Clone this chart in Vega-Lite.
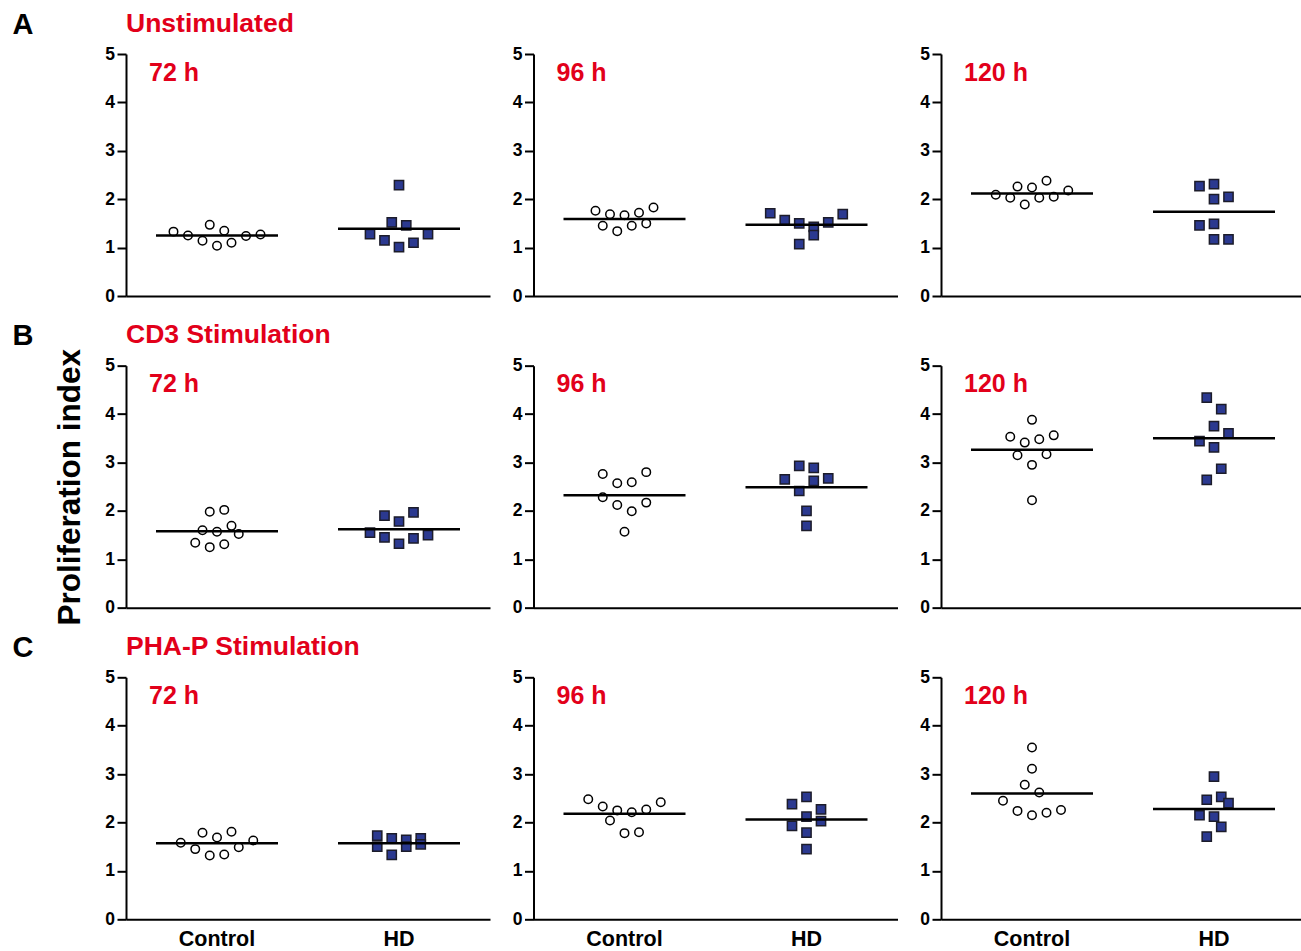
{
  "$schema": "https://vega.github.io/schema/vega-lite/v6.json",
  "background": "white",
  "padding": {"left": 12, "top": 10, "right": 0, "bottom": 0},
  "autosize": {"type": "pad"},
  "config": {
    "font": "Liberation Sans",
    "view": {"stroke": null},
    "axis": {"domainColor": "#000000", "domainWidth": 2, "tickColor": "#000000", "tickWidth": 2, "labelColor": "#000000", "grid": false, "labelFont": "Liberation Sans", "labelFontWeight": "bold", "titleFont": "Liberation Sans", "titleColor": "#000000", "titleFontWeight": "bold"},
    "title": {"font": "Liberation Sans", "fontWeight": "bold", "fontSize": 26.5, "color": "#E2001A", "anchor": "start", "frame": "group", "baseline": "alphabetic", "offset": -27}
  },
  "datasets": {
    "points": [
      {"stim":"Unstimulated","time":"72 h","group":"Control","slot":-6,"index":1.33},
      {"stim":"Unstimulated","time":"72 h","group":"Control","slot":-4,"index":1.25},
      {"stim":"Unstimulated","time":"72 h","group":"Control","slot":-2,"index":1.14},
      {"stim":"Unstimulated","time":"72 h","group":"Control","slot":-1,"index":1.47},
      {"stim":"Unstimulated","time":"72 h","group":"Control","slot":0,"index":1.04},
      {"stim":"Unstimulated","time":"72 h","group":"Control","slot":1,"index":1.35},
      {"stim":"Unstimulated","time":"72 h","group":"Control","slot":2,"index":1.10},
      {"stim":"Unstimulated","time":"72 h","group":"Control","slot":4,"index":1.24},
      {"stim":"Unstimulated","time":"72 h","group":"Control","slot":6,"index":1.27},
      {"stim":"Unstimulated","time":"72 h","group":"HD","slot":0,"index":2.29},
      {"stim":"Unstimulated","time":"72 h","group":"HD","slot":-1,"index":1.52},
      {"stim":"Unstimulated","time":"72 h","group":"HD","slot":1,"index":1.46},
      {"stim":"Unstimulated","time":"72 h","group":"HD","slot":-4,"index":1.28},
      {"stim":"Unstimulated","time":"72 h","group":"HD","slot":-2,"index":1.15},
      {"stim":"Unstimulated","time":"72 h","group":"HD","slot":0,"index":1.01},
      {"stim":"Unstimulated","time":"72 h","group":"HD","slot":2,"index":1.10},
      {"stim":"Unstimulated","time":"72 h","group":"HD","slot":4,"index":1.28},

      {"stim":"Unstimulated","time":"96 h","group":"Control","slot":-4,"index":1.76},
      {"stim":"Unstimulated","time":"96 h","group":"Control","slot":-3,"index":1.45},
      {"stim":"Unstimulated","time":"96 h","group":"Control","slot":-2,"index":1.69},
      {"stim":"Unstimulated","time":"96 h","group":"Control","slot":-1,"index":1.34},
      {"stim":"Unstimulated","time":"96 h","group":"Control","slot":0,"index":1.67},
      {"stim":"Unstimulated","time":"96 h","group":"Control","slot":1,"index":1.45},
      {"stim":"Unstimulated","time":"96 h","group":"Control","slot":2,"index":1.72},
      {"stim":"Unstimulated","time":"96 h","group":"Control","slot":3,"index":1.50},
      {"stim":"Unstimulated","time":"96 h","group":"Control","slot":4,"index":1.83},
      {"stim":"Unstimulated","time":"96 h","group":"HD","slot":-5,"index":1.71},
      {"stim":"Unstimulated","time":"96 h","group":"HD","slot":-3,"index":1.57},
      {"stim":"Unstimulated","time":"96 h","group":"HD","slot":-1,"index":1.50},
      {"stim":"Unstimulated","time":"96 h","group":"HD","slot":1,"index":1.43},
      {"stim":"Unstimulated","time":"96 h","group":"HD","slot":1,"index":1.26},
      {"stim":"Unstimulated","time":"96 h","group":"HD","slot":-1,"index":1.07},
      {"stim":"Unstimulated","time":"96 h","group":"HD","slot":3,"index":1.52},
      {"stim":"Unstimulated","time":"96 h","group":"HD","slot":5,"index":1.69},

      {"stim":"Unstimulated","time":"120 h","group":"Control","slot":-5,"index":2.09},
      {"stim":"Unstimulated","time":"120 h","group":"Control","slot":-3,"index":2.03},
      {"stim":"Unstimulated","time":"120 h","group":"Control","slot":-2,"index":2.26},
      {"stim":"Unstimulated","time":"120 h","group":"Control","slot":-1,"index":1.89},
      {"stim":"Unstimulated","time":"120 h","group":"Control","slot":0,"index":2.24},
      {"stim":"Unstimulated","time":"120 h","group":"Control","slot":1,"index":2.03},
      {"stim":"Unstimulated","time":"120 h","group":"Control","slot":2,"index":2.38},
      {"stim":"Unstimulated","time":"120 h","group":"Control","slot":3,"index":2.05},
      {"stim":"Unstimulated","time":"120 h","group":"Control","slot":5,"index":2.18},
      {"stim":"Unstimulated","time":"120 h","group":"HD","slot":-2,"index":2.27},
      {"stim":"Unstimulated","time":"120 h","group":"HD","slot":0,"index":2.31},
      {"stim":"Unstimulated","time":"120 h","group":"HD","slot":0,"index":2.00},
      {"stim":"Unstimulated","time":"120 h","group":"HD","slot":2,"index":2.05},
      {"stim":"Unstimulated","time":"120 h","group":"HD","slot":-2,"index":1.46},
      {"stim":"Unstimulated","time":"120 h","group":"HD","slot":0,"index":1.49},
      {"stim":"Unstimulated","time":"120 h","group":"HD","slot":0,"index":1.17},
      {"stim":"Unstimulated","time":"120 h","group":"HD","slot":2,"index":1.17},

      {"stim":"CD3","time":"72 h","group":"Control","slot":-3,"index":1.34},
      {"stim":"CD3","time":"72 h","group":"Control","slot":-2,"index":1.60},
      {"stim":"CD3","time":"72 h","group":"Control","slot":-1,"index":1.98},
      {"stim":"CD3","time":"72 h","group":"Control","slot":-1,"index":1.25},
      {"stim":"CD3","time":"72 h","group":"Control","slot":0,"index":1.57},
      {"stim":"CD3","time":"72 h","group":"Control","slot":1,"index":2.02},
      {"stim":"CD3","time":"72 h","group":"Control","slot":1,"index":1.31},
      {"stim":"CD3","time":"72 h","group":"Control","slot":2,"index":1.69},
      {"stim":"CD3","time":"72 h","group":"Control","slot":3,"index":1.52},
      {"stim":"CD3","time":"72 h","group":"HD","slot":-4,"index":1.55},
      {"stim":"CD3","time":"72 h","group":"HD","slot":-2,"index":1.90},
      {"stim":"CD3","time":"72 h","group":"HD","slot":-2,"index":1.45},
      {"stim":"CD3","time":"72 h","group":"HD","slot":0,"index":1.78},
      {"stim":"CD3","time":"72 h","group":"HD","slot":0,"index":1.32},
      {"stim":"CD3","time":"72 h","group":"HD","slot":2,"index":1.97},
      {"stim":"CD3","time":"72 h","group":"HD","slot":2,"index":1.43},
      {"stim":"CD3","time":"72 h","group":"HD","slot":4,"index":1.50},

      {"stim":"CD3","time":"96 h","group":"Control","slot":-3,"index":2.76},
      {"stim":"CD3","time":"96 h","group":"Control","slot":-1,"index":2.57},
      {"stim":"CD3","time":"96 h","group":"Control","slot":1,"index":2.59},
      {"stim":"CD3","time":"96 h","group":"Control","slot":3,"index":2.80},
      {"stim":"CD3","time":"96 h","group":"Control","slot":-3,"index":2.28},
      {"stim":"CD3","time":"96 h","group":"Control","slot":-1,"index":2.12},
      {"stim":"CD3","time":"96 h","group":"Control","slot":1,"index":1.99},
      {"stim":"CD3","time":"96 h","group":"Control","slot":3,"index":2.17},
      {"stim":"CD3","time":"96 h","group":"Control","slot":0,"index":1.57},
      {"stim":"CD3","time":"96 h","group":"HD","slot":-3,"index":2.65},
      {"stim":"CD3","time":"96 h","group":"HD","slot":-1,"index":2.93},
      {"stim":"CD3","time":"96 h","group":"HD","slot":1,"index":2.89},
      {"stim":"CD3","time":"96 h","group":"HD","slot":1,"index":2.62},
      {"stim":"CD3","time":"96 h","group":"HD","slot":3,"index":2.67},
      {"stim":"CD3","time":"96 h","group":"HD","slot":-1,"index":2.41},
      {"stim":"CD3","time":"96 h","group":"HD","slot":0,"index":2.00},
      {"stim":"CD3","time":"96 h","group":"HD","slot":0,"index":1.69},

      {"stim":"CD3","time":"120 h","group":"Control","slot":-3,"index":3.53},
      {"stim":"CD3","time":"120 h","group":"Control","slot":-1,"index":3.41},
      {"stim":"CD3","time":"120 h","group":"Control","slot":0,"index":3.88},
      {"stim":"CD3","time":"120 h","group":"Control","slot":1,"index":3.48},
      {"stim":"CD3","time":"120 h","group":"Control","slot":3,"index":3.56},
      {"stim":"CD3","time":"120 h","group":"Control","slot":-2,"index":3.15},
      {"stim":"CD3","time":"120 h","group":"Control","slot":2,"index":3.17},
      {"stim":"CD3","time":"120 h","group":"Control","slot":0,"index":2.95},
      {"stim":"CD3","time":"120 h","group":"Control","slot":0,"index":2.22},
      {"stim":"CD3","time":"120 h","group":"HD","slot":-1,"index":4.34},
      {"stim":"CD3","time":"120 h","group":"HD","slot":1,"index":4.10},
      {"stim":"CD3","time":"120 h","group":"HD","slot":0,"index":3.75},
      {"stim":"CD3","time":"120 h","group":"HD","slot":2,"index":3.60},
      {"stim":"CD3","time":"120 h","group":"HD","slot":-2,"index":3.44},
      {"stim":"CD3","time":"120 h","group":"HD","slot":0,"index":3.31},
      {"stim":"CD3","time":"120 h","group":"HD","slot":1,"index":2.87},
      {"stim":"CD3","time":"120 h","group":"HD","slot":-1,"index":2.64},

      {"stim":"PHA-P","time":"72 h","group":"Control","slot":-5,"index":1.58},
      {"stim":"PHA-P","time":"72 h","group":"Control","slot":-3,"index":1.45},
      {"stim":"PHA-P","time":"72 h","group":"Control","slot":-2,"index":1.79},
      {"stim":"PHA-P","time":"72 h","group":"Control","slot":-1,"index":1.32},
      {"stim":"PHA-P","time":"72 h","group":"Control","slot":0,"index":1.69},
      {"stim":"PHA-P","time":"72 h","group":"Control","slot":1,"index":1.34},
      {"stim":"PHA-P","time":"72 h","group":"Control","slot":2,"index":1.81},
      {"stim":"PHA-P","time":"72 h","group":"Control","slot":3,"index":1.49},
      {"stim":"PHA-P","time":"72 h","group":"Control","slot":5,"index":1.63},
      {"stim":"PHA-P","time":"72 h","group":"HD","slot":-3,"index":1.73},
      {"stim":"PHA-P","time":"72 h","group":"HD","slot":-3,"index":1.50},
      {"stim":"PHA-P","time":"72 h","group":"HD","slot":-1,"index":1.67},
      {"stim":"PHA-P","time":"72 h","group":"HD","slot":-1,"index":1.33},
      {"stim":"PHA-P","time":"72 h","group":"HD","slot":1,"index":1.64},
      {"stim":"PHA-P","time":"72 h","group":"HD","slot":1,"index":1.50},
      {"stim":"PHA-P","time":"72 h","group":"HD","slot":3,"index":1.67},
      {"stim":"PHA-P","time":"72 h","group":"HD","slot":3,"index":1.55},

      {"stim":"PHA-P","time":"96 h","group":"Control","slot":-5,"index":2.48},
      {"stim":"PHA-P","time":"96 h","group":"Control","slot":-3,"index":2.33},
      {"stim":"PHA-P","time":"96 h","group":"Control","slot":-2,"index":2.04},
      {"stim":"PHA-P","time":"96 h","group":"Control","slot":-1,"index":2.25},
      {"stim":"PHA-P","time":"96 h","group":"Control","slot":0,"index":1.78},
      {"stim":"PHA-P","time":"96 h","group":"Control","slot":1,"index":2.21},
      {"stim":"PHA-P","time":"96 h","group":"Control","slot":2,"index":1.80},
      {"stim":"PHA-P","time":"96 h","group":"Control","slot":3,"index":2.27},
      {"stim":"PHA-P","time":"96 h","group":"Control","slot":5,"index":2.42},
      {"stim":"PHA-P","time":"96 h","group":"HD","slot":-2,"index":2.38},
      {"stim":"PHA-P","time":"96 h","group":"HD","slot":0,"index":2.53},
      {"stim":"PHA-P","time":"96 h","group":"HD","slot":2,"index":2.27},
      {"stim":"PHA-P","time":"96 h","group":"HD","slot":0,"index":2.12},
      {"stim":"PHA-P","time":"96 h","group":"HD","slot":-2,"index":1.93},
      {"stim":"PHA-P","time":"96 h","group":"HD","slot":2,"index":2.03},
      {"stim":"PHA-P","time":"96 h","group":"HD","slot":0,"index":1.79},
      {"stim":"PHA-P","time":"96 h","group":"HD","slot":0,"index":1.45},

      {"stim":"PHA-P","time":"120 h","group":"Control","slot":0,"index":3.55},
      {"stim":"PHA-P","time":"120 h","group":"Control","slot":0,"index":3.11},
      {"stim":"PHA-P","time":"120 h","group":"Control","slot":-1,"index":2.78},
      {"stim":"PHA-P","time":"120 h","group":"Control","slot":1,"index":2.62},
      {"stim":"PHA-P","time":"120 h","group":"Control","slot":-4,"index":2.45},
      {"stim":"PHA-P","time":"120 h","group":"Control","slot":-2,"index":2.24},
      {"stim":"PHA-P","time":"120 h","group":"Control","slot":0,"index":2.15},
      {"stim":"PHA-P","time":"120 h","group":"Control","slot":2,"index":2.20},
      {"stim":"PHA-P","time":"120 h","group":"Control","slot":4,"index":2.26},
      {"stim":"PHA-P","time":"120 h","group":"HD","slot":0,"index":2.95},
      {"stim":"PHA-P","time":"120 h","group":"HD","slot":-1,"index":2.47},
      {"stim":"PHA-P","time":"120 h","group":"HD","slot":1,"index":2.53},
      {"stim":"PHA-P","time":"120 h","group":"HD","slot":2,"index":2.40},
      {"stim":"PHA-P","time":"120 h","group":"HD","slot":-2,"index":2.15},
      {"stim":"PHA-P","time":"120 h","group":"HD","slot":0,"index":2.12},
      {"stim":"PHA-P","time":"120 h","group":"HD","slot":1,"index":1.91},
      {"stim":"PHA-P","time":"120 h","group":"HD","slot":-1,"index":1.71}
    ],
    "means": [
      {"stim":"Unstimulated","time":"72 h","group":"Control","index":1.25},
      {"stim":"Unstimulated","time":"72 h","group":"HD","index":1.39},
      {"stim":"Unstimulated","time":"96 h","group":"Control","index":1.59},
      {"stim":"Unstimulated","time":"96 h","group":"HD","index":1.47},
      {"stim":"Unstimulated","time":"120 h","group":"Control","index":2.12},
      {"stim":"Unstimulated","time":"120 h","group":"HD","index":1.74},
      {"stim":"CD3","time":"72 h","group":"Control","index":1.58},
      {"stim":"CD3","time":"72 h","group":"HD","index":1.62},
      {"stim":"CD3","time":"96 h","group":"Control","index":2.32},
      {"stim":"CD3","time":"96 h","group":"HD","index":2.49},
      {"stim":"CD3","time":"120 h","group":"Control","index":3.26},
      {"stim":"CD3","time":"120 h","group":"HD","index":3.50},
      {"stim":"PHA-P","time":"72 h","group":"Control","index":1.57},
      {"stim":"PHA-P","time":"72 h","group":"HD","index":1.57},
      {"stim":"PHA-P","time":"96 h","group":"Control","index":2.18},
      {"stim":"PHA-P","time":"96 h","group":"HD","index":2.06},
      {"stim":"PHA-P","time":"120 h","group":"Control","index":2.60},
      {"stim":"PHA-P","time":"120 h","group":"HD","index":2.28}
    ]
  },
  "columns": 3,
  "bounds": "flush",
  "spacing": {"row": 69.65, "column": 43.5},
  "align": "all",
  "concat": [
    {
      "width": 364, "height": 242,
      "title": {"text": "Unstimulated"},
      "layer": [
        {"data": {"name": "points"}, "transform": [{"filter": "datum.stim === 'Unstimulated' && datum.time === '72 h'"}],
         "mark": {"type": "point", "filled": true, "strokeWidth": 1.5, "opacity": 1},
         "encoding": {
           "x": {"field": "group", "type": "nominal", "scale": {"type": "band", "domain": ["Control", "HD"], "paddingInner": 0, "paddingOuter": 0}, "axis": {"labels": false, "ticks": false, "domainWidth": 2, "title": "A", "titleX": -114, "titleY": -263, "titleAlign": "left", "titleBaseline": "alphabetic", "titleAngle": 0, "titleFontSize": 29}},
           "xOffset": {"field": "slot", "type": "quantitative", "scale": {"domain": [-12.55, 12.55]}},
           "y": {"field": "index", "type": "quantitative", "scale": {"domain": [0, 5], "nice": false}, "axis": {"values": [0, 1, 2, 3, 4, 5], "title": null, "tickSize": 9, "tickWidth": 2, "domainWidth": 2, "labelFontSize": 17.5, "labelFontWeight": "bold", "labelPadding": 2.5}},
           "shape": {"field": "group", "type": "nominal", "scale": {"domain": ["Control", "HD"], "range": ["circle", "square"]}, "legend": null},
           "size": {"field": "group", "type": "nominal", "scale": {"domain": ["Control", "HD"], "range": [72, 85]}, "legend": null},
           "fill": {"field": "group", "type": "nominal", "scale": {"domain": ["Control", "HD"], "range": ["#ffffff", "#2B3990"]}, "legend": null},
           "stroke": {"field": "group", "type": "nominal", "scale": {"domain": ["Control", "HD"], "range": ["#000000", "#1c1c2a"]}, "legend": null}
         }},
        {"data": {"name": "means"}, "transform": [{"filter": "datum.stim === 'Unstimulated' && datum.time === '72 h'"}],
         "mark": {"type": "tick", "size": 122, "thickness": 2.5, "color": "#000000", "opacity": 1},
         "encoding": {"x": {"field": "group", "type": "nominal"}, "y": {"field": "index", "type": "quantitative"}}},
        {"data": {"values": [{"label": "72 h"}]},
         "mark": {"type": "text", "align": "left", "baseline": "alphabetic", "dx": 23, "fontSize": 25, "fontWeight": "bold", "color": "#E2001A"},
         "encoding": {"text": {"field": "label"}, "x": {"datum": "Control", "bandPosition": 0}, "y": {"datum": 4.45}}}
      ]
    },
    {
      "width": 364, "height": 242,
      "layer": [
        {"data": {"name": "points"}, "transform": [{"filter": "datum.stim === 'Unstimulated' && datum.time === '96 h'"}],
         "mark": {"type": "point", "filled": true, "strokeWidth": 1.5, "opacity": 1},
         "encoding": {
           "x": {"field": "group", "type": "nominal", "scale": {"type": "band", "domain": ["Control", "HD"], "paddingInner": 0, "paddingOuter": 0}, "axis": {"labels": false, "ticks": false, "domainWidth": 2, "title": null}},
           "xOffset": {"field": "slot", "type": "quantitative", "scale": {"domain": [-12.55, 12.55]}},
           "y": {"field": "index", "type": "quantitative", "scale": {"domain": [0, 5], "nice": false}, "axis": {"values": [0, 1, 2, 3, 4, 5], "title": null, "tickSize": 9, "tickWidth": 2, "domainWidth": 2, "labelFontSize": 17.5, "labelFontWeight": "bold", "labelPadding": 2.5}},
           "shape": {"field": "group", "type": "nominal", "scale": {"domain": ["Control", "HD"], "range": ["circle", "square"]}, "legend": null},
           "size": {"field": "group", "type": "nominal", "scale": {"domain": ["Control", "HD"], "range": [72, 85]}, "legend": null},
           "fill": {"field": "group", "type": "nominal", "scale": {"domain": ["Control", "HD"], "range": ["#ffffff", "#2B3990"]}, "legend": null},
           "stroke": {"field": "group", "type": "nominal", "scale": {"domain": ["Control", "HD"], "range": ["#000000", "#1c1c2a"]}, "legend": null}
         }},
        {"data": {"name": "means"}, "transform": [{"filter": "datum.stim === 'Unstimulated' && datum.time === '96 h'"}],
         "mark": {"type": "tick", "size": 122, "thickness": 2.5, "color": "#000000", "opacity": 1},
         "encoding": {"x": {"field": "group", "type": "nominal"}, "y": {"field": "index", "type": "quantitative"}}},
        {"data": {"values": [{"label": "96 h"}]},
         "mark": {"type": "text", "align": "left", "baseline": "alphabetic", "dx": 23, "fontSize": 25, "fontWeight": "bold", "color": "#E2001A"},
         "encoding": {"text": {"field": "label"}, "x": {"datum": "Control", "bandPosition": 0}, "y": {"datum": 4.45}}}
      ]
    },
    {
      "width": 364, "height": 242,
      "layer": [
        {"data": {"name": "points"}, "transform": [{"filter": "datum.stim === 'Unstimulated' && datum.time === '120 h'"}],
         "mark": {"type": "point", "filled": true, "strokeWidth": 1.5, "opacity": 1},
         "encoding": {
           "x": {"field": "group", "type": "nominal", "scale": {"type": "band", "domain": ["Control", "HD"], "paddingInner": 0, "paddingOuter": 0}, "axis": {"labels": false, "ticks": false, "domainWidth": 2, "title": null}},
           "xOffset": {"field": "slot", "type": "quantitative", "scale": {"domain": [-12.55, 12.55]}},
           "y": {"field": "index", "type": "quantitative", "scale": {"domain": [0, 5], "nice": false}, "axis": {"values": [0, 1, 2, 3, 4, 5], "title": null, "tickSize": 9, "tickWidth": 2, "domainWidth": 2, "labelFontSize": 17.5, "labelFontWeight": "bold", "labelPadding": 2.5}},
           "shape": {"field": "group", "type": "nominal", "scale": {"domain": ["Control", "HD"], "range": ["circle", "square"]}, "legend": null},
           "size": {"field": "group", "type": "nominal", "scale": {"domain": ["Control", "HD"], "range": [72, 85]}, "legend": null},
           "fill": {"field": "group", "type": "nominal", "scale": {"domain": ["Control", "HD"], "range": ["#ffffff", "#2B3990"]}, "legend": null},
           "stroke": {"field": "group", "type": "nominal", "scale": {"domain": ["Control", "HD"], "range": ["#000000", "#1c1c2a"]}, "legend": null}
         }},
        {"data": {"name": "means"}, "transform": [{"filter": "datum.stim === 'Unstimulated' && datum.time === '120 h'"}],
         "mark": {"type": "tick", "size": 122, "thickness": 2.5, "color": "#000000", "opacity": 1},
         "encoding": {"x": {"field": "group", "type": "nominal"}, "y": {"field": "index", "type": "quantitative"}}},
        {"data": {"values": [{"label": "120 h"}]},
         "mark": {"type": "text", "align": "left", "baseline": "alphabetic", "dx": 23, "fontSize": 25, "fontWeight": "bold", "color": "#E2001A"},
         "encoding": {"text": {"field": "label"}, "x": {"datum": "Control", "bandPosition": 0}, "y": {"datum": 4.45}}}
      ]
    },
    {
      "width": 364, "height": 242,
      "title": {"text": "CD3 Stimulation"},
      "layer": [
        {"data": {"name": "points"}, "transform": [{"filter": "datum.stim === 'CD3' && datum.time === '72 h'"}],
         "mark": {"type": "point", "filled": true, "strokeWidth": 1.5, "opacity": 1},
         "encoding": {
           "x": {"field": "group", "type": "nominal", "scale": {"type": "band", "domain": ["Control", "HD"], "paddingInner": 0, "paddingOuter": 0}, "axis": {"labels": false, "ticks": false, "domainWidth": 2, "title": "B", "titleX": -114, "titleY": -263, "titleAlign": "left", "titleBaseline": "alphabetic", "titleAngle": 0, "titleFontSize": 29}},
           "xOffset": {"field": "slot", "type": "quantitative", "scale": {"domain": [-12.55, 12.55]}},
           "y": {"field": "index", "type": "quantitative", "scale": {"domain": [0, 5], "nice": false}, "axis": {"values": [0, 1, 2, 3, 4, 5], "tickSize": 9, "tickWidth": 2, "domainWidth": 2, "labelFontSize": 17.5, "labelFontWeight": "bold", "labelPadding": 2.5, "title": "Proliferation index", "titleFontSize": 31.5, "titleAngle": 270, "titleX": -47, "titleY": 121, "titleAlign": "center", "titleBaseline": "alphabetic"}},
           "shape": {"field": "group", "type": "nominal", "scale": {"domain": ["Control", "HD"], "range": ["circle", "square"]}, "legend": null},
           "size": {"field": "group", "type": "nominal", "scale": {"domain": ["Control", "HD"], "range": [72, 85]}, "legend": null},
           "fill": {"field": "group", "type": "nominal", "scale": {"domain": ["Control", "HD"], "range": ["#ffffff", "#2B3990"]}, "legend": null},
           "stroke": {"field": "group", "type": "nominal", "scale": {"domain": ["Control", "HD"], "range": ["#000000", "#1c1c2a"]}, "legend": null}
         }},
        {"data": {"name": "means"}, "transform": [{"filter": "datum.stim === 'CD3' && datum.time === '72 h'"}],
         "mark": {"type": "tick", "size": 122, "thickness": 2.5, "color": "#000000", "opacity": 1},
         "encoding": {"x": {"field": "group", "type": "nominal"}, "y": {"field": "index", "type": "quantitative"}}},
        {"data": {"values": [{"label": "72 h"}]},
         "mark": {"type": "text", "align": "left", "baseline": "alphabetic", "dx": 23, "fontSize": 25, "fontWeight": "bold", "color": "#E2001A"},
         "encoding": {"text": {"field": "label"}, "x": {"datum": "Control", "bandPosition": 0}, "y": {"datum": 4.45}}}
      ]
    },
    {
      "width": 364, "height": 242,
      "layer": [
        {"data": {"name": "points"}, "transform": [{"filter": "datum.stim === 'CD3' && datum.time === '96 h'"}],
         "mark": {"type": "point", "filled": true, "strokeWidth": 1.5, "opacity": 1},
         "encoding": {
           "x": {"field": "group", "type": "nominal", "scale": {"type": "band", "domain": ["Control", "HD"], "paddingInner": 0, "paddingOuter": 0}, "axis": {"labels": false, "ticks": false, "domainWidth": 2, "title": null}},
           "xOffset": {"field": "slot", "type": "quantitative", "scale": {"domain": [-12.55, 12.55]}},
           "y": {"field": "index", "type": "quantitative", "scale": {"domain": [0, 5], "nice": false}, "axis": {"values": [0, 1, 2, 3, 4, 5], "title": null, "tickSize": 9, "tickWidth": 2, "domainWidth": 2, "labelFontSize": 17.5, "labelFontWeight": "bold", "labelPadding": 2.5}},
           "shape": {"field": "group", "type": "nominal", "scale": {"domain": ["Control", "HD"], "range": ["circle", "square"]}, "legend": null},
           "size": {"field": "group", "type": "nominal", "scale": {"domain": ["Control", "HD"], "range": [72, 85]}, "legend": null},
           "fill": {"field": "group", "type": "nominal", "scale": {"domain": ["Control", "HD"], "range": ["#ffffff", "#2B3990"]}, "legend": null},
           "stroke": {"field": "group", "type": "nominal", "scale": {"domain": ["Control", "HD"], "range": ["#000000", "#1c1c2a"]}, "legend": null}
         }},
        {"data": {"name": "means"}, "transform": [{"filter": "datum.stim === 'CD3' && datum.time === '96 h'"}],
         "mark": {"type": "tick", "size": 122, "thickness": 2.5, "color": "#000000", "opacity": 1},
         "encoding": {"x": {"field": "group", "type": "nominal"}, "y": {"field": "index", "type": "quantitative"}}},
        {"data": {"values": [{"label": "96 h"}]},
         "mark": {"type": "text", "align": "left", "baseline": "alphabetic", "dx": 23, "fontSize": 25, "fontWeight": "bold", "color": "#E2001A"},
         "encoding": {"text": {"field": "label"}, "x": {"datum": "Control", "bandPosition": 0}, "y": {"datum": 4.45}}}
      ]
    },
    {
      "width": 364, "height": 242,
      "layer": [
        {"data": {"name": "points"}, "transform": [{"filter": "datum.stim === 'CD3' && datum.time === '120 h'"}],
         "mark": {"type": "point", "filled": true, "strokeWidth": 1.5, "opacity": 1},
         "encoding": {
           "x": {"field": "group", "type": "nominal", "scale": {"type": "band", "domain": ["Control", "HD"], "paddingInner": 0, "paddingOuter": 0}, "axis": {"labels": false, "ticks": false, "domainWidth": 2, "title": null}},
           "xOffset": {"field": "slot", "type": "quantitative", "scale": {"domain": [-12.55, 12.55]}},
           "y": {"field": "index", "type": "quantitative", "scale": {"domain": [0, 5], "nice": false}, "axis": {"values": [0, 1, 2, 3, 4, 5], "title": null, "tickSize": 9, "tickWidth": 2, "domainWidth": 2, "labelFontSize": 17.5, "labelFontWeight": "bold", "labelPadding": 2.5}},
           "shape": {"field": "group", "type": "nominal", "scale": {"domain": ["Control", "HD"], "range": ["circle", "square"]}, "legend": null},
           "size": {"field": "group", "type": "nominal", "scale": {"domain": ["Control", "HD"], "range": [72, 85]}, "legend": null},
           "fill": {"field": "group", "type": "nominal", "scale": {"domain": ["Control", "HD"], "range": ["#ffffff", "#2B3990"]}, "legend": null},
           "stroke": {"field": "group", "type": "nominal", "scale": {"domain": ["Control", "HD"], "range": ["#000000", "#1c1c2a"]}, "legend": null}
         }},
        {"data": {"name": "means"}, "transform": [{"filter": "datum.stim === 'CD3' && datum.time === '120 h'"}],
         "mark": {"type": "tick", "size": 122, "thickness": 2.5, "color": "#000000", "opacity": 1},
         "encoding": {"x": {"field": "group", "type": "nominal"}, "y": {"field": "index", "type": "quantitative"}}},
        {"data": {"values": [{"label": "120 h"}]},
         "mark": {"type": "text", "align": "left", "baseline": "alphabetic", "dx": 23, "fontSize": 25, "fontWeight": "bold", "color": "#E2001A"},
         "encoding": {"text": {"field": "label"}, "x": {"datum": "Control", "bandPosition": 0}, "y": {"datum": 4.45}}}
      ]
    },
    {
      "width": 364, "height": 242,
      "title": {"text": "PHA-P Stimulation"},
      "layer": [
        {"data": {"name": "points"}, "transform": [{"filter": "datum.stim === 'PHA-P' && datum.time === '72 h'"}],
         "mark": {"type": "point", "filled": true, "strokeWidth": 1.5, "opacity": 1},
         "encoding": {
           "x": {"field": "group", "type": "nominal", "scale": {"type": "band", "domain": ["Control", "HD"], "paddingInner": 0, "paddingOuter": 0}, "axis": {"labels": true, "ticks": false, "domainWidth": 2, "labelFontSize": 21.5, "labelFontWeight": "bold", "labelPadding": 9, "labelAngle": 0, "title": "C", "titleX": -114, "titleY": -263, "titleAlign": "left", "titleBaseline": "alphabetic", "titleAngle": 0, "titleFontSize": 29}},
           "xOffset": {"field": "slot", "type": "quantitative", "scale": {"domain": [-12.55, 12.55]}},
           "y": {"field": "index", "type": "quantitative", "scale": {"domain": [0, 5], "nice": false}, "axis": {"values": [0, 1, 2, 3, 4, 5], "title": null, "tickSize": 9, "tickWidth": 2, "domainWidth": 2, "labelFontSize": 17.5, "labelFontWeight": "bold", "labelPadding": 2.5}},
           "shape": {"field": "group", "type": "nominal", "scale": {"domain": ["Control", "HD"], "range": ["circle", "square"]}, "legend": null},
           "size": {"field": "group", "type": "nominal", "scale": {"domain": ["Control", "HD"], "range": [72, 85]}, "legend": null},
           "fill": {"field": "group", "type": "nominal", "scale": {"domain": ["Control", "HD"], "range": ["#ffffff", "#2B3990"]}, "legend": null},
           "stroke": {"field": "group", "type": "nominal", "scale": {"domain": ["Control", "HD"], "range": ["#000000", "#1c1c2a"]}, "legend": null}
         }},
        {"data": {"name": "means"}, "transform": [{"filter": "datum.stim === 'PHA-P' && datum.time === '72 h'"}],
         "mark": {"type": "tick", "size": 122, "thickness": 2.5, "color": "#000000", "opacity": 1},
         "encoding": {"x": {"field": "group", "type": "nominal"}, "y": {"field": "index", "type": "quantitative"}}},
        {"data": {"values": [{"label": "72 h"}]},
         "mark": {"type": "text", "align": "left", "baseline": "alphabetic", "dx": 23, "fontSize": 25, "fontWeight": "bold", "color": "#E2001A"},
         "encoding": {"text": {"field": "label"}, "x": {"datum": "Control", "bandPosition": 0}, "y": {"datum": 4.45}}}
      ]
    },
    {
      "width": 364, "height": 242,
      "layer": [
        {"data": {"name": "points"}, "transform": [{"filter": "datum.stim === 'PHA-P' && datum.time === '96 h'"}],
         "mark": {"type": "point", "filled": true, "strokeWidth": 1.5, "opacity": 1},
         "encoding": {
           "x": {"field": "group", "type": "nominal", "scale": {"type": "band", "domain": ["Control", "HD"], "paddingInner": 0, "paddingOuter": 0}, "axis": {"labels": true, "ticks": false, "domainWidth": 2, "labelFontSize": 21.5, "labelFontWeight": "bold", "labelPadding": 9, "labelAngle": 0, "title": null}},
           "xOffset": {"field": "slot", "type": "quantitative", "scale": {"domain": [-12.55, 12.55]}},
           "y": {"field": "index", "type": "quantitative", "scale": {"domain": [0, 5], "nice": false}, "axis": {"values": [0, 1, 2, 3, 4, 5], "title": null, "tickSize": 9, "tickWidth": 2, "domainWidth": 2, "labelFontSize": 17.5, "labelFontWeight": "bold", "labelPadding": 2.5}},
           "shape": {"field": "group", "type": "nominal", "scale": {"domain": ["Control", "HD"], "range": ["circle", "square"]}, "legend": null},
           "size": {"field": "group", "type": "nominal", "scale": {"domain": ["Control", "HD"], "range": [72, 85]}, "legend": null},
           "fill": {"field": "group", "type": "nominal", "scale": {"domain": ["Control", "HD"], "range": ["#ffffff", "#2B3990"]}, "legend": null},
           "stroke": {"field": "group", "type": "nominal", "scale": {"domain": ["Control", "HD"], "range": ["#000000", "#1c1c2a"]}, "legend": null}
         }},
        {"data": {"name": "means"}, "transform": [{"filter": "datum.stim === 'PHA-P' && datum.time === '96 h'"}],
         "mark": {"type": "tick", "size": 122, "thickness": 2.5, "color": "#000000", "opacity": 1},
         "encoding": {"x": {"field": "group", "type": "nominal"}, "y": {"field": "index", "type": "quantitative"}}},
        {"data": {"values": [{"label": "96 h"}]},
         "mark": {"type": "text", "align": "left", "baseline": "alphabetic", "dx": 23, "fontSize": 25, "fontWeight": "bold", "color": "#E2001A"},
         "encoding": {"text": {"field": "label"}, "x": {"datum": "Control", "bandPosition": 0}, "y": {"datum": 4.45}}}
      ]
    },
    {
      "width": 364, "height": 242,
      "layer": [
        {"data": {"name": "points"}, "transform": [{"filter": "datum.stim === 'PHA-P' && datum.time === '120 h'"}],
         "mark": {"type": "point", "filled": true, "strokeWidth": 1.5, "opacity": 1},
         "encoding": {
           "x": {"field": "group", "type": "nominal", "scale": {"type": "band", "domain": ["Control", "HD"], "paddingInner": 0, "paddingOuter": 0}, "axis": {"labels": true, "ticks": false, "domainWidth": 2, "labelFontSize": 21.5, "labelFontWeight": "bold", "labelPadding": 9, "labelAngle": 0, "title": null}},
           "xOffset": {"field": "slot", "type": "quantitative", "scale": {"domain": [-12.55, 12.55]}},
           "y": {"field": "index", "type": "quantitative", "scale": {"domain": [0, 5], "nice": false}, "axis": {"values": [0, 1, 2, 3, 4, 5], "title": null, "tickSize": 9, "tickWidth": 2, "domainWidth": 2, "labelFontSize": 17.5, "labelFontWeight": "bold", "labelPadding": 2.5}},
           "shape": {"field": "group", "type": "nominal", "scale": {"domain": ["Control", "HD"], "range": ["circle", "square"]}, "legend": null},
           "size": {"field": "group", "type": "nominal", "scale": {"domain": ["Control", "HD"], "range": [72, 85]}, "legend": null},
           "fill": {"field": "group", "type": "nominal", "scale": {"domain": ["Control", "HD"], "range": ["#ffffff", "#2B3990"]}, "legend": null},
           "stroke": {"field": "group", "type": "nominal", "scale": {"domain": ["Control", "HD"], "range": ["#000000", "#1c1c2a"]}, "legend": null}
         }},
        {"data": {"name": "means"}, "transform": [{"filter": "datum.stim === 'PHA-P' && datum.time === '120 h'"}],
         "mark": {"type": "tick", "size": 122, "thickness": 2.5, "color": "#000000", "opacity": 1},
         "encoding": {"x": {"field": "group", "type": "nominal"}, "y": {"field": "index", "type": "quantitative"}}},
        {"data": {"values": [{"label": "120 h"}]},
         "mark": {"type": "text", "align": "left", "baseline": "alphabetic", "dx": 23, "fontSize": 25, "fontWeight": "bold", "color": "#E2001A"},
         "encoding": {"text": {"field": "label"}, "x": {"datum": "Control", "bandPosition": 0}, "y": {"datum": 4.45}}}
      ]
    }
  ]
}
